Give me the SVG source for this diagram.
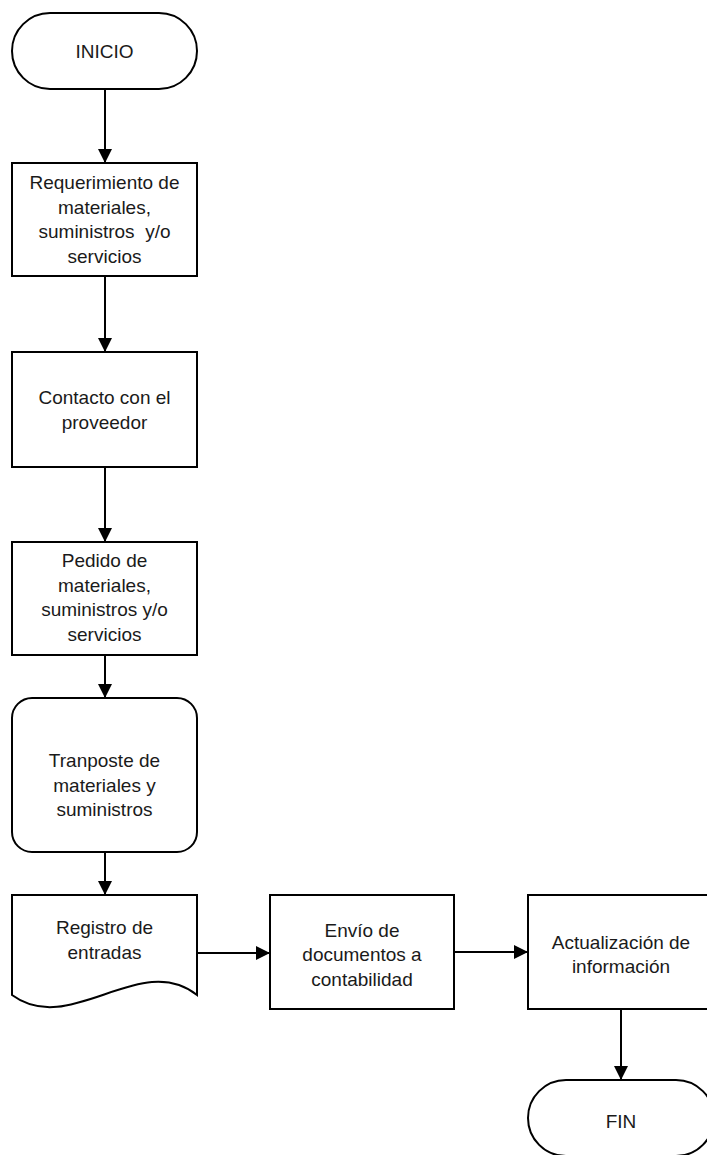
<svg xmlns="http://www.w3.org/2000/svg" width="707" height="1155" viewBox="0 0 707 1155">
  <style>
    .shape { fill: #ffffff; stroke: #000000; stroke-width: 2; }
    .lbl { font-family: "Liberation Sans", Arial, sans-serif; font-size: 19px; fill: #1a1a1a; text-anchor: middle; }
    .conn { stroke: #000000; stroke-width: 2; fill: none; marker-end: url(#arrow); }
  </style>
  <defs>
    <marker id="arrow" markerUnits="userSpaceOnUse" markerWidth="14" markerHeight="14" refX="14" refY="7" orient="auto">
      <path d="M0,0 L14,7 L0,14 Z" fill="#000000"/>
    </marker>
  </defs>
  <rect width="707" height="1155" fill="#ffffff"/>

  <g id="connectors">
    <line class="conn" x1="105" y1="89" x2="105" y2="163"/>
    <line class="conn" x1="105" y1="276" x2="105" y2="352"/>
    <line class="conn" x1="105" y1="467" x2="105" y2="542"/>
    <line class="conn" x1="105" y1="655" x2="105" y2="698"/>
    <line class="conn" x1="105" y1="852" x2="105" y2="895"/>
    <line class="conn" x1="197" y1="953" x2="270" y2="953"/>
    <line class="conn" x1="454" y1="952" x2="528" y2="952"/>
    <line class="conn" x1="621" y1="1009" x2="621" y2="1080"/>
  </g>

  <g id="inicio">
    <rect class="shape" x="12" y="13" width="185" height="76" rx="38" ry="38"/>
    <text class="lbl" x="104.5" y="58">INICIO</text>
  </g>

  <g id="requerimiento">
    <rect class="shape" x="12" y="163" width="185" height="113"/>
    <text class="lbl" x="104.5" y="189">Requerimiento de</text>
    <text class="lbl" x="104.5" y="213.5">materiales,</text>
    <text class="lbl" x="104.5" y="238" xml:space="preserve">suministros  y/o</text>
    <text class="lbl" x="104.5" y="262.5">servicios</text>
  </g>

  <g id="contacto">
    <rect class="shape" x="12" y="352" width="185" height="115"/>
    <text class="lbl" x="104.5" y="404">Contacto con el</text>
    <text class="lbl" x="104.5" y="429">proveedor</text>
  </g>

  <g id="pedido">
    <rect class="shape" x="12" y="542" width="185" height="113"/>
    <text class="lbl" x="104.5" y="567">Pedido de</text>
    <text class="lbl" x="104.5" y="591.5">materiales,</text>
    <text class="lbl" x="104.5" y="616">suministros y/o</text>
    <text class="lbl" x="104.5" y="640.5">servicios</text>
  </g>

  <g id="transporte">
    <rect class="shape" x="12" y="698" width="185" height="154" rx="20" ry="20"/>
    <text class="lbl" x="104.5" y="767">Tranposte de</text>
    <text class="lbl" x="104.5" y="791.5">materiales y</text>
    <text class="lbl" x="104.5" y="816">suministros</text>
  </g>

  <g id="registro">
    <path class="shape" d="M12,895 H197 V995 C140,950 70,1038 12,995 Z"/>
    <text class="lbl" x="104.5" y="934">Registro de</text>
    <text class="lbl" x="104.5" y="958.5">entradas</text>
  </g>

  <g id="envio">
    <rect class="shape" x="270" y="895" width="184" height="114"/>
    <text class="lbl" x="362" y="936.5">Envío de</text>
    <text class="lbl" x="362" y="961">documentos a</text>
    <text class="lbl" x="362" y="985.5">contabilidad</text>
  </g>

  <g id="actualizacion">
    <rect class="shape" x="528" y="895" width="186" height="114"/>
    <text class="lbl" x="621" y="949">Actualización de</text>
    <text class="lbl" x="621" y="973">información</text>
  </g>

  <g id="fin">
    <rect class="shape" x="528" y="1080" width="186" height="76" rx="38" ry="38"/>
    <text class="lbl" x="621" y="1128">FIN</text>
  </g>
</svg>
